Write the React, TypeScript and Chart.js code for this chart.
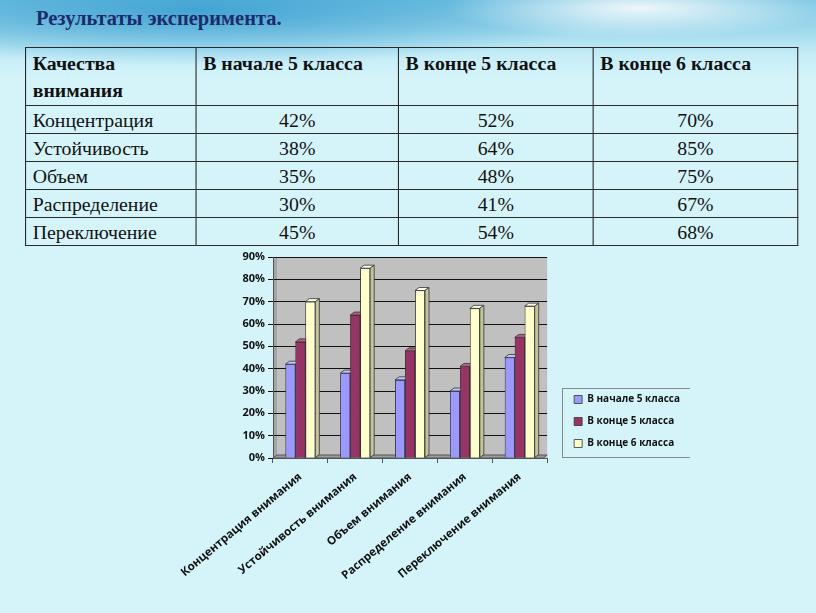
import React, { useEffect, useRef } from 'react';
import { Chart, registerables } from 'chart.js';

Chart.register(...registerables);

// ---------- data ----------
const titleText = 'Результаты эксперимента.';
const tableHeaders = ['Качества внимания', 'В начале 5 класса', 'В конце 5 класса', 'В конце 6 класса'];
const qualities = ['Концентрация', 'Устойчивость', 'Объем', 'Распределение', 'Переключение'];
const categories = [
  'Концентрация внимания',
  'Устойчивость внимания',
  'Объем внимания',
  'Распределение внимания',
  'Переключение внимания',
];
const seriesNames = ['В начале 5 класса', 'В конце 5 класса', 'В конце 6 класса'];
const start5 = [42, 38, 35, 30, 45];
const end5 = [52, 64, 48, 41, 54];
const end6 = [70, 85, 75, 67, 68];
const yMin = 0;
const yMax = 90;
const yStep = 10;

// ---------- styles ----------
const frontColors = ['#9999ff', '#993366', '#ffffcc'];
const topColors = ['#c2c2ff', '#bb5a8a', '#ffffee'];
const sideColors = ['#6b6bb8', '#62203f', '#c4c49c'];
const DX = 4;
const DY = 3;
const LABEL_FONT = '"Open Sans", "Liberation Sans", sans-serif';
const CANVAS_LEFT = 150;
const CANVAS_TOP = 245;
const CANVAS_W = 540;
const CANVAS_H = 360;

const threeD = {
  id: 'threeD',
  beforeDraw(chart: any) {
    const { ctx, chartArea: a } = chart;
    ctx.save();
    ctx.fillStyle = '#c0c0c0';
    ctx.fillRect(a.left, a.top, a.right - a.left, a.bottom - a.top);
    ctx.fillStyle = '#a4a4a4';
    ctx.beginPath();
    ctx.moveTo(a.left, a.top + DY);
    ctx.lineTo(a.left + DX, a.top);
    ctx.lineTo(a.left + DX, a.bottom - DY);
    ctx.lineTo(a.left, a.bottom);
    ctx.closePath();
    ctx.fill();
    ctx.restore();
  },
  beforeDatasetsDraw(chart: any) {
    const { ctx, chartArea: a } = chart;
    ctx.save();
    ctx.fillStyle = '#9c9c9c';
    ctx.strokeStyle = '#555';
    ctx.lineWidth = 1;
    ctx.beginPath();
    ctx.moveTo(a.left, a.bottom);
    ctx.lineTo(a.right - DX, a.bottom);
    ctx.lineTo(a.right, a.bottom - DY);
    ctx.lineTo(a.left + DX, a.bottom - DY);
    ctx.closePath();
    ctx.fill();
    ctx.stroke();
    ctx.restore();
  },
  afterDatasetsDraw(chart: any) {
    const { ctx } = chart;
    const n = chart.data.labels.length;
    const dsCount = chart.data.datasets.length;
    ctx.save();
    for (let i = 0; i < n; i++) {
      for (let j = 0; j < dsCount; j++) {
        const meta = chart.getDatasetMeta(j);
        const el = meta.data[i];
        if (!el) continue;
        el.draw(ctx);
        const { x, y, base, width } = el.getProps(['x', 'y', 'base', 'width'], true);
        const l = x - width / 2;
        const r = x + width / 2;
        ctx.lineWidth = 0.8;
        ctx.strokeStyle = '#333';
        ctx.fillStyle = topColors[j];
        ctx.beginPath();
        ctx.moveTo(l, y);
        ctx.lineTo(r, y);
        ctx.lineTo(r + DX, y - DY);
        ctx.lineTo(l + DX, y - DY);
        ctx.closePath();
        ctx.fill();
        ctx.stroke();
        ctx.fillStyle = sideColors[j];
        ctx.beginPath();
        ctx.moveTo(r, y);
        ctx.lineTo(r + DX, y - DY);
        ctx.lineTo(r + DX, base - DY);
        ctx.lineTo(r, base);
        ctx.closePath();
        ctx.fill();
        ctx.stroke();
      }
    }
    ctx.restore();
  },
};

const legendBox = {
  id: 'legendBox',
  afterDraw(chart: any) {
    const lg = chart.legend;
    const hb = lg && lg.legendHitBoxes;
    if (!hb || !hb.length) return;
    let minX = Infinity, minY = Infinity, maxX = -Infinity, maxY = -Infinity;
    hb.forEach((b: any) => {
      minX = Math.min(minX, b.left);
      minY = Math.min(minY, b.top);
      maxX = Math.max(maxX, b.left + b.width);
      maxY = Math.max(maxY, b.top + b.height);
    });
    const ctx = chart.ctx;
    ctx.save();
    ctx.strokeStyle = '#8a8a8a';
    ctx.lineWidth = 1;
    const x0 = Math.round(minX - 12) + 0.5;
    const y0 = Math.round(minY - 7) + 0.5;
    const x1 = Math.round(maxX + 10) + 0.5;
    const y1 = Math.round(maxY + 8) + 0.5;
    ctx.strokeRect(x0, y0, x1 - x0, y1 - y0);
    ctx.restore();
  },
};

function BarChart() {
  const ref = useRef<HTMLCanvasElement | null>(null);
  useEffect(() => {
    if (!ref.current) return;
    const series = [start5, end5, end6];
    const chart = new Chart(ref.current, {
      type: 'bar',
      data: {
        labels: categories,
        datasets: series.map((d, i) => ({
          label: seriesNames[i],
          data: d,
          backgroundColor: frontColors[i],
          borderColor: '#333',
          borderWidth: 0.8,
          categoryPercentage: 0.545,
          barPercentage: 1,
        })),
      },
      options: {
        responsive: false,
        animation: false,
        devicePixelRatio: 1,
        layout: { padding: { top: 12, right: 0, bottom: 19, left: 70 } },
        plugins: {
          legend: {
            position: 'right',
            align: 'center',
            maxWidth: 220,
            labels: {
              boxWidth: 8,
              boxHeight: 8,
              padding: 12,
              color: '#111',
              font: { family: LABEL_FONT, size: 10, weight: 'bold' },
            },
          },
          tooltip: { enabled: false },
        },
        scales: {
          x: {
            offset: true,
            grid: { display: true, drawOnChartArea: false, offset: true, tickLength: 5, color: '#555' },
            border: { display: true, color: '#555' },
            ticks: {
              autoSkip: false,
              maxRotation: 40,
              minRotation: 40,
              padding: 7,
              color: '#111',
              font: { family: LABEL_FONT, size: 11.5, weight: 'bold' },
            },
            afterFit: (s: any) => {
              s.height = 128;
              s.paddingLeft = 0;
              s.paddingRight = 0;
            },
          },
          y: {
            min: yMin,
            max: yMax,
            ticks: {
              stepSize: yStep,
              callback: (v: any) => `${v}%`,
              padding: 3,
              color: '#111',
              font: { family: LABEL_FONT, size: 11, weight: 'bold' },
            },
            grid: { color: '#111', lineWidth: 1, tickLength: 5 },
            border: { display: true, color: '#555' },
            afterFit: (s: any) => { s.width = 53; },
          },
          yR: {
            type: 'linear',
            position: 'right',
            display: true,
            grid: { display: false },
            ticks: { display: false },
            border: { display: false },
            afterFit: (s: any) => { s.width = 15; },
          },
        },
      },
      plugins: [threeD, legendBox],
    } as any);
    return () => chart.destroy();
  }, []);
  return (
    <canvas
      ref={ref}
      width={CANVAS_W}
      height={CANVAS_H}
      style={{ position: 'absolute', left: CANVAS_LEFT, top: CANVAS_TOP, width: CANVAS_W, height: CANVAS_H, display: 'block' }}
    />
  );
}

const cellBorder = '1px solid #2a2a2a';
const colWidths = [155, 184, 177, 186];

export default function App() {
  const serif = '"Liberation Serif", "Times New Roman", serif';
  return (
    <div
      style={{
        position: 'fixed',
        left: 0,
        top: 0,
        width: 816,
        height: 613,
        overflow: 'hidden',
        background:
          'radial-gradient(ellipse 260px 40px at 640px 8px, rgba(255,255,255,0.85), rgba(255,255,255,0) 75%),' +
          'radial-gradient(ellipse 520px 70px at 200px 10px, rgba(60,160,210,0.9), rgba(60,160,210,0) 80%),' +
          'linear-gradient(180deg, #7ac6e3 0px, #9fd9ec 30px, #c6edf7 55px, #d5f4fa 80px, #d5f4fa 613px)',
      }}
    >
      <div
        style={{
          position: 'absolute',
          left: 36,
          top: 7,
          fontFamily: serif,
          fontWeight: 'bold',
          fontSize: 20.5,
          color: '#1c2b6a',
          whiteSpace: 'nowrap',
        }}
      >
        {titleText}
      </div>
      <div style={{ position: 'absolute', left: 25, top: 47, transform: 'scaleX(1.1)', transformOrigin: '0 0' }}>
        <table
          style={{
            borderCollapse: 'collapse',
            tableLayout: 'fixed',
            width: colWidths.reduce((a, b) => a + b, 0),
            fontFamily: serif,
            fontSize: 18,
            color: '#111',
          }}
        >
          <colgroup>
            {colWidths.map((w, i) => (
              <col key={i} style={{ width: w }} />
            ))}
          </colgroup>
          <tbody>
            <tr style={{ height: 57 }}>
              {tableHeaders.map((h, i) => (
                <td
                  key={i}
                  style={{
                    border: cellBorder,
                    fontWeight: 'bold',
                    verticalAlign: 'top',
                    padding: '3px 6px 0 6px',
                    lineHeight: '27px',
                  }}
                >
                  {h}
                </td>
              ))}
            </tr>
            {qualities.map((q, r) => (
              <tr key={q} style={{ height: 28 }}>
                <td style={{ border: cellBorder, padding: '2px 6px 0 6px', lineHeight: '24px' }}>{q}</td>
                {[start5, end5, end6].map((s, c) => (
                  <td
                    key={c}
                    style={{ border: cellBorder, textAlign: 'center', padding: '2px 6px 0 6px', lineHeight: '24px' }}
                  >
                    {`${s[r]}%`}
                  </td>
                ))}
              </tr>
            ))}
          </tbody>
        </table>
      </div>
      <BarChart />
    </div>
  );
}
